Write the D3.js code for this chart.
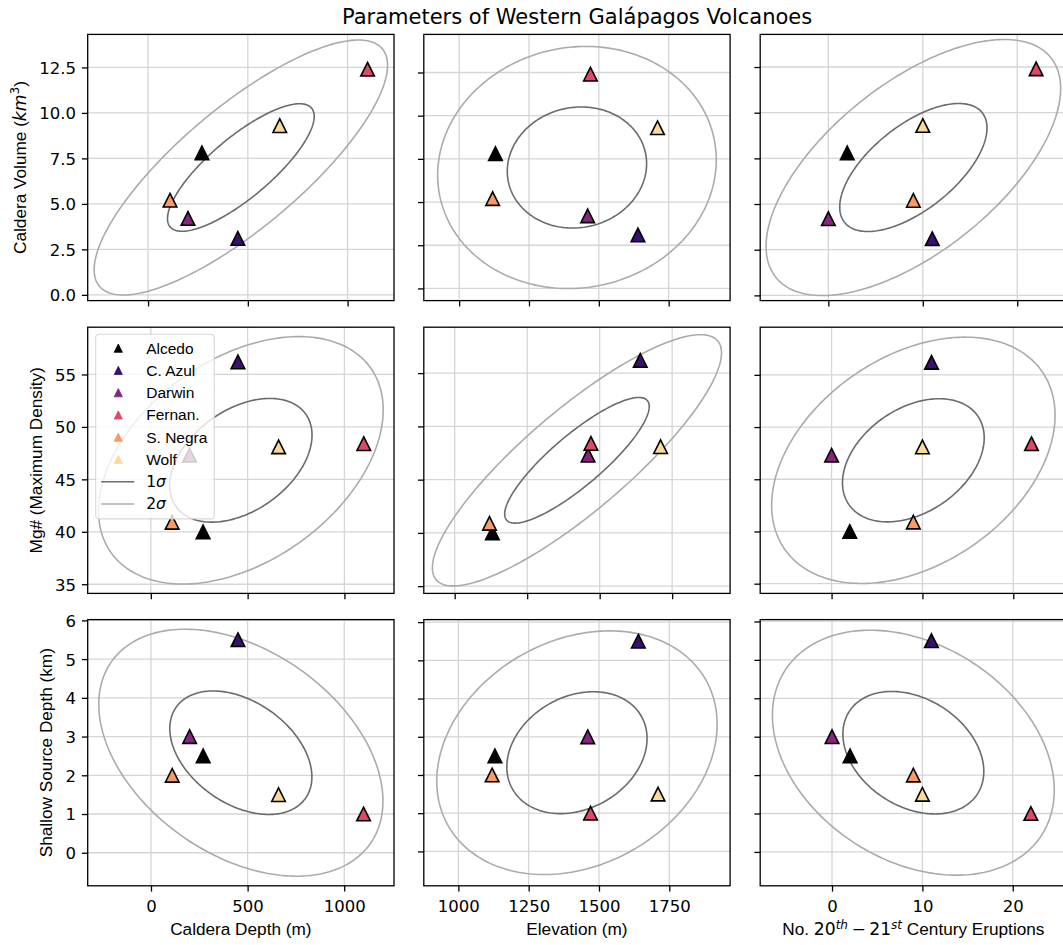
<!DOCTYPE html>
<html>
<head>
<meta charset="utf-8">
<script src="https://cdn.jsdelivr.net/npm/d3@7"></script>
<style>
  body { margin: 0; background: #fff; }
  svg { display: block; }
</style>
</head>
<body>
<svg id="chart" width="1063" height="945"></svg>
<script>
// ---- Data -----------------------------------------------------------------
const volcanoes     = ["Alcedo", "C. Azul", "Darwin", "Fernan.", "S. Negra", "Wolf"];
const calderaDepth  = [270, 450, 200, 1100, 110, 660];      // m
const elevation     = [1130, 1640, 1460, 1470, 1120, 1710]; // m
const eruptions     = [2, 11, 0, 22, 9, 10];                // 20th–21st century
const calderaVolume = [7.8, 3.1, 4.2, 12.4, 5.2, 9.3];      // km^3
const mgNumber      = [40.0, 56.2, 47.3, 48.4, 40.9, 48.1]; // maximum density
const sourceDepth   = [2.5, 5.5, 3.0, 1.0, 2.0, 1.5];       // km

const depthTicks       = [0, 500, 1000];
const elevationTicks   = [1000, 1250, 1500, 1750];
const eruptionTicks    = [0, 10, 20];
const volumeTicks      = [0, 2.5, 5, 7.5, 10, 12.5];
const mgTicks          = [35, 40, 45, 50, 55];
const sourceDepthTicks = [0, 1, 2, 3, 4, 5, 6];

const sigmaLevels = [1, 2];

// ---- Styles ---------------------------------------------------------------
const volcanoColors = ["#000004", "#3b0f70", "#852580", "#de4968", "#fc9a66", "#fad99b"];
const sigmaColors   = { 1: "#6b6b6b", 2: "#ababab" };
const TICK_FONT  = "'DejaVu Sans', sans-serif";
const LABEL_FONT = "'Liberation Sans', Arial, Helvetica, sans-serif";
const LABEL_SIZE = "17.2px";

const svg = d3.select("#chart");

// Panel grid geometry
const colLeft = [87.7, 423.8, 760.2], panelW = 306.3;
const rowTop  = [34.4, 327.2, 619.6], panelH = 266.2;

const xVars = [
  { values: calderaDepth, ticks: depthTicks,     fmt: d3.format("d") },
  { values: elevation,    ticks: elevationTicks, fmt: d3.format("d") },
  { values: eruptions,    ticks: eruptionTicks,  fmt: d3.format("d") }
];
const yVars = [
  { values: calderaVolume, ticks: volumeTicks,      fmt: d3.format(".1f") },
  { values: mgNumber,      ticks: mgTicks,          fmt: d3.format("d") },
  { values: sourceDepth,   ticks: sourceDepthTicks, fmt: d3.format("d") }
];

// Covariance (confidence) ellipse for two variables
function ellipseModel(xs, ys) {
  const mx = d3.mean(xs), my = d3.mean(ys);
  const sx = d3.deviation(xs), sy = d3.deviation(ys);
  const cov = d3.sum(xs, (x, i) => (x - mx) * (ys[i] - my)) / (xs.length - 1);
  const p = cov / (sx * sy);
  const a = Math.sqrt(1 + p), b = Math.sqrt(1 - p);
  const at = (t, k) => {
    const u = a * Math.cos(t), v = b * Math.sin(t);
    return [mx + k * sx * (u - v) / Math.SQRT2, my + k * sy * (u + v) / Math.SQRT2];
  };
  return { at };
}

// Axis limits: the larger ellipse's path vertices plus the data, with 5% margins
function paddedDomain(vals) {
  const [lo, hi] = d3.extent(vals);
  const m = (hi - lo) * 0.05;
  return [lo - m, hi + m];
}

const triangle = r => `M0,${-r}L${r},${r}L${-r},${r}Z`;

const defs = svg.append("defs");

yVars.forEach((yv, ri) => {
  xVars.forEach((xv, ci) => {
    const x0 = colLeft[ci], y0 = rowTop[ri];
    const model = ellipseModel(xv.values, yv.values);
    const kMax = d3.max(sigmaLevels);
    const verts = d3.range(8).map(k => model.at(k * Math.PI / 4, kMax));
    const xDom = paddedDomain(verts.map(d => d[0]).concat(xv.values));
    const yDom = paddedDomain(verts.map(d => d[1]).concat(yv.values));
    const x = d3.scaleLinear().domain(xDom).range([x0, x0 + panelW]);
    const y = d3.scaleLinear().domain(yDom).range([y0 + panelH, y0]);

    const xt = xv.ticks.filter(t => t >= xDom[0] && t <= xDom[1]);
    const yt = yv.ticks.filter(t => t >= yDom[0] && t <= yDom[1]);

    const clipId = `clip-${ri}-${ci}`;
    defs.append("clipPath").attr("id", clipId)
      .append("rect").attr("x", x0).attr("y", y0).attr("width", panelW).attr("height", panelH);

    const g = svg.append("g");

    // grid
    g.append("g").selectAll("line").data(xt).join("line")
      .attr("x1", d => x(d)).attr("x2", d => x(d))
      .attr("y1", y0).attr("y2", y0 + panelH)
      .attr("stroke", "#d5d5d5").attr("stroke-width", 1.3);
    g.append("g").selectAll("line").data(yt).join("line")
      .attr("y1", d => y(d)).attr("y2", d => y(d))
      .attr("x1", x0).attr("x2", x0 + panelW)
      .attr("stroke", "#d5d5d5").attr("stroke-width", 1.3);

    // ellipses
    const inner = g.append("g").attr("clip-path", `url(#${clipId})`);
    const line = d3.line().x(d => x(d[0])).y(d => y(d[1])).curve(d3.curveLinearClosed);
    sigmaLevels.forEach(k => {
      const pts = d3.range(240).map(i => model.at(i / 240 * 2 * Math.PI, k));
      inner.append("path").attr("d", line(pts))
        .attr("fill", "none").attr("stroke", sigmaColors[k]).attr("stroke-width", 1.6);
    });

    // volcano markers
    inner.selectAll("path.pt").data(volcanoes).join("path")
      .attr("class", "pt")
      .attr("d", triangle(6.8))
      .attr("transform", (d, i) => `translate(${x(xv.values[i])},${y(yv.values[i])})`)
      .attr("fill", (d, i) => volcanoColors[i])
      .attr("stroke", "#000").attr("stroke-width", 1.6).attr("stroke-linejoin", "miter");

    // axes
    const xAxis = d3.axisBottom(x).tickValues(xt).tickSize(5.8).tickPadding(5)
      .tickFormat(ri === 2 ? xv.fmt : () => "");
    const yAxis = d3.axisLeft(y).tickValues(yt).tickSize(5.8).tickPadding(5)
      .tickFormat(ci === 0 ? yv.fmt : () => "");
    const gx = svg.append("g").attr("transform", `translate(0,${y0 + panelH})`).call(xAxis);
    const gy = svg.append("g").attr("transform", `translate(${x0},0)`).call(yAxis);
    [gx, gy].forEach(ax => {
      ax.select(".domain").remove();
      ax.selectAll(".tick line").attr("stroke", "#000").attr("stroke-width", 1.3);
      ax.selectAll(".tick text").attr("fill", "#000")
        .style("font-family", TICK_FONT).style("font-size", "16.5px");
    });
    gx.selectAll(".tick text").attr("y", 14).attr("dy", "0.71em");
    gy.selectAll(".tick text").attr("x", -11.6).attr("dy", "0.36em");

    // frame
    svg.append("rect").attr("x", x0).attr("y", y0).attr("width", panelW).attr("height", panelH)
      .attr("fill", "none").attr("stroke", "#000").attr("stroke-width", 1.3);

    if (ci === 0) yv.tickGroup = gy;
  });
});

// ---- Axis labels ----------------------------------------------------------
const xLabelY = rowTop[2] + panelH + 49.5;
const xl = svg.append("g").style("font-family", LABEL_FONT).style("font-size", LABEL_SIZE)
  .attr("text-anchor", "middle");
xl.append("text").attr("x", colLeft[0] + panelW / 2).attr("y", xLabelY).text("Caldera Depth (m)");
xl.append("text").attr("x", colLeft[1] + panelW / 2).attr("y", xLabelY).text("Elevation (m)");
const er = xl.append("text").attr("x", colLeft[2] + panelW / 2).attr("y", xLabelY);
er.append("tspan").text("No. ");
er.append("tspan").style("font-family", TICK_FONT).text("20");
er.append("tspan").style("font-family", TICK_FONT).style("font-style", "italic")
  .style("font-size", "12px").attr("dy", -6.8).text("th");
er.append("tspan").style("font-family", TICK_FONT).attr("dy", 6.8).text("\u2009\u2212\u200921");
er.append("tspan").style("font-family", TICK_FONT).style("font-style", "italic")
  .style("font-size", "12px").attr("dy", -6.8).text("st");
er.append("tspan").attr("dy", 6.8).text(" Century Eruptions");

// y labels sit left of each row's tick labels
const yLabels = [
  g => {
    g.append("tspan").text("Caldera Volume (");
    g.append("tspan").style("font-family", TICK_FONT).style("font-style", "italic").text("km");
    g.append("tspan").style("font-family", TICK_FONT).style("font-size", "12px").attr("dy", -6.8).text("3");
    g.append("tspan").attr("dy", 6.8).text(")");
  },
  g => g.text("Mg# (Maximum Density)"),
  g => g.text("Shallow Source Depth (km)")
];
yVars.forEach((yv, ri) => {
  let minLeft = Infinity;
  yv.tickGroup.selectAll(".tick text").each(function () {
    const bb = this.getBBox();
    minLeft = Math.min(minLeft, colLeft[0] + bb.x);
  });
  const lx = minLeft - 13.5, ly = rowTop[ri] + panelH / 2;
  const t = svg.append("text").attr("x", lx).attr("y", ly)
    .attr("transform", `rotate(-90,${lx},${ly})`).attr("text-anchor", "middle")
    .style("font-family", LABEL_FONT).style("font-size", LABEL_SIZE);
  yLabels[ri](t);
});

// ---- Title ----------------------------------------------------------------
svg.append("text")
  .attr("x", (colLeft[0] + colLeft[2] + panelW) / 2).attr("y", 24)
  .attr("text-anchor", "middle")
  .style("font-family", TICK_FONT).style("font-size", "21px")
  .text("Parameters of Western Galápagos Volcanoes");

// ---- Legend (middle-left panel) ------------------------------------------
const lg = svg.append("g").attr("transform", `translate(${colLeft[0] + 8},${rowTop[1] + 7})`);
lg.append("rect").attr("x", 0).attr("y", 0).attr("width", 118.6).attr("height", 184.7)
  .attr("rx", 3.5).attr("fill", "#fff").attr("fill-opacity", 0.8)
  .attr("stroke", "#cccccc").attr("stroke-opacity", 0.8).attr("stroke-width", 1.1);
const rowStep = 22.25, firstRow = 14;
const entries = volcanoes.map((v, i) => ({ type: "marker", label: v, color: volcanoColors[i] }))
  .concat(sigmaLevels.map(k => ({ type: "line", label: k, color: sigmaColors[k] })));
entries.forEach((e, i) => {
  const cy = firstRow + i * rowStep;
  if (e.type === "marker") {
    lg.append("path").attr("d", triangle(4.1)).attr("transform", `translate(22.6,${cy})`)
      .attr("fill", e.color).attr("stroke", e.color).attr("stroke-width", 0.8);
    lg.append("text").attr("x", 50.5).attr("y", cy + 5.5)
      .style("font-family", LABEL_FONT).style("font-size", "15.5px").text(e.label);
  } else {
    lg.append("line").attr("x1", 5.5).attr("x2", 38.5).attr("y1", cy).attr("y2", cy)
      .attr("stroke", e.color).attr("stroke-width", 1.6);
    const t = lg.append("text").attr("x", 50.5).attr("y", cy + 5.5)
      .style("font-family", TICK_FONT).style("font-size", "15.5px");
    t.append("tspan").text(e.label);
    t.append("tspan").style("font-style", "italic").text("σ");
  }
});
</script>
</body>
</html>
